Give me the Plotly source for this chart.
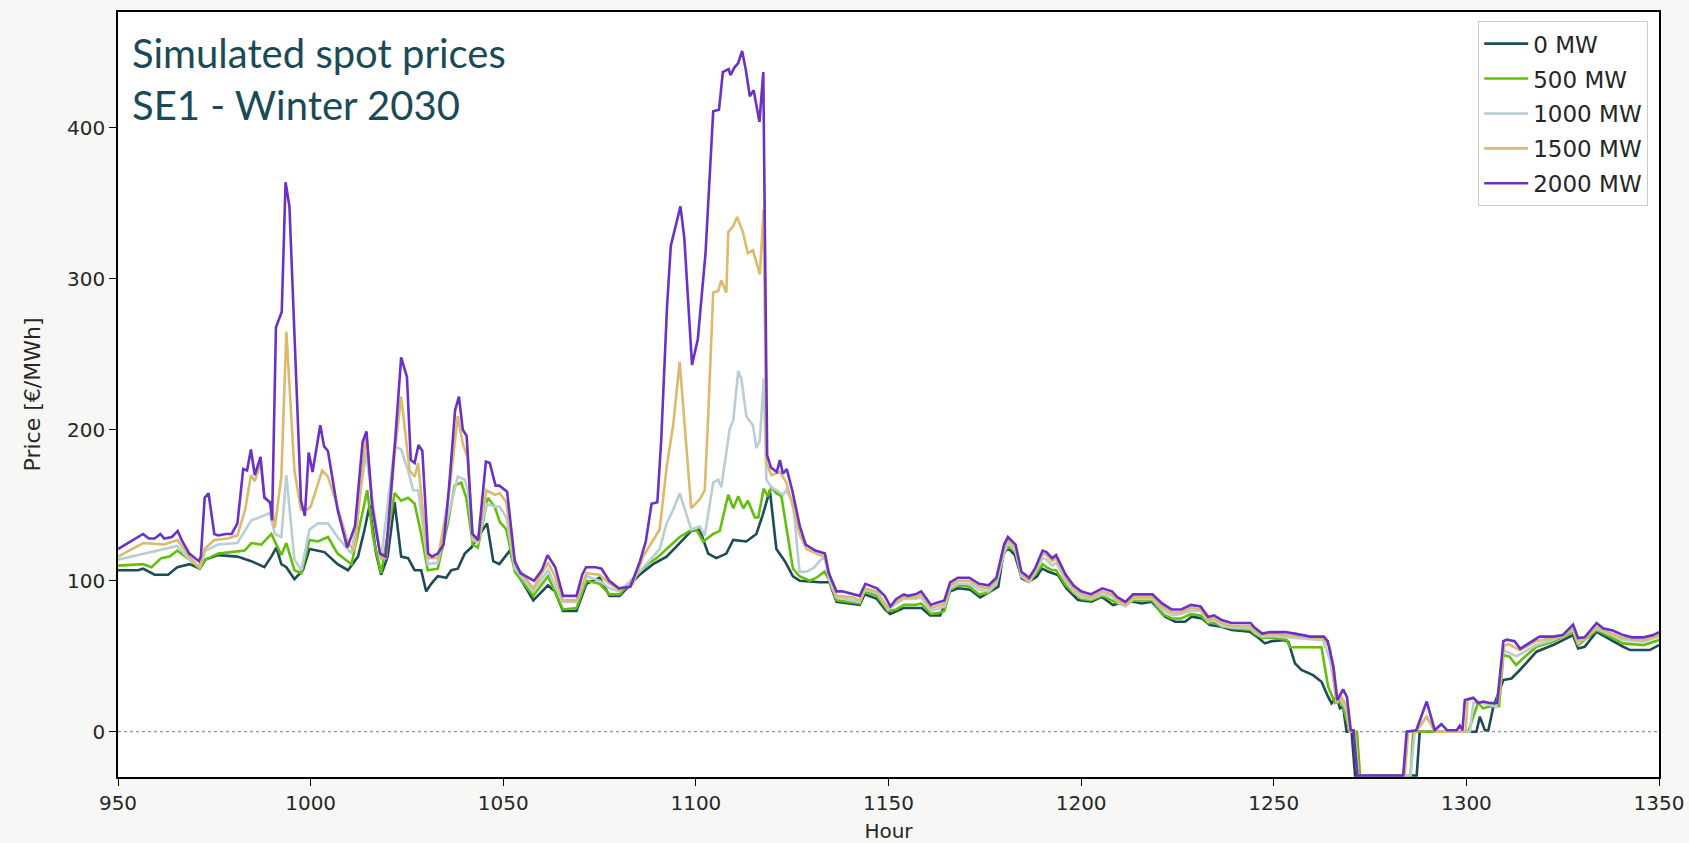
import plotly.graph_objects as go

# Simulated SE1 spot prices, winter 2030, for five levels of added load (MW)
SERIES_NAMES = ["0 MW", "500 MW", "1000 MW", "1500 MW", "2000 MW"]
SERIES_COLORS = ["#1d4b57", "#62bf0c", "#b9cdd4", "#dcb96c", "#6a30c8"]

HOURS_0MW = [950, 955.2, 956.5, 959.5, 963, 965.4, 968.6, 971.2, 972.7, 976, 981, 984.6, 988, 989.8, 991.1,
             992.4, 993.7, 995.8, 998, 999.7, 1003.6, 1007, 1009.7, 1012.3, 1014, 1015.3, 1017, 1018.3, 1020,
             1021.8, 1023.5, 1025.3, 1027, 1028.7, 1030, 1031.3, 1033, 1035.2, 1036.5, 1038.2, 1040, 1041.7,
             1043.4, 1045.8, 1047.4, 1049, 1051.7, 1053.4, 1057.8, 1061.6, 1063.4, 1065.5, 1069, 1071.6, 1075,
             1077.6, 1080.2, 1085.4, 1088.9, 1092.4, 1095.8, 1098.8, 1101, 1103.2, 1105.3, 1107.9, 1109.7,
             1113.1, 1115.7, 1117.4, 1119.2, 1120.9, 1123.1, 1125.2, 1127, 1132.1, 1134.7, 1136.5, 1142.5,
             1143.8, 1147, 1149.1, 1150.4, 1153.9, 1158.6, 1160.8, 1163.4, 1166, 1168.1, 1171.2, 1173.8, 1175.9,
             1178.5, 1179.8, 1181.1, 1182.8, 1184.6, 1186.3, 1188.5, 1189.8, 1191.5, 1194, 1196.2, 1199.2,
             1202.7, 1205.3, 1208.3, 1211.4, 1213.5, 1215.7, 1218.3, 1221.8, 1224.4, 1227, 1228.7, 1231.3,
             1233.4, 1236.5, 1239.1, 1243.8, 1245.6, 1247.7, 1249.5, 1252.5, 1253.8, 1255.5, 1257.2, 1260.2,
             1262.4, 1264.1, 1265, 1266.3, 1267.2, 1268, 1268.9, 1270.2, 1271.1, 1287.1, 1287.9, 1302.6, 1303.5,
             1304.8, 1305.7, 1307, 1309.6, 1311.7, 1313.9, 1318.2, 1322.5, 1327.7, 1329, 1330.7, 1333.8, 1340.7,
             1342.5, 1347.6, 1350]
PRICE_0MW = [107, 107, 108, 104, 104, 109, 111, 108, 114, 117, 116, 113, 109, 116, 122,
             111, 109, 101, 107, 121, 119, 111, 107, 116, 134, 150, 118, 104, 116,
             152, 116, 115, 107, 107, 93, 98, 103, 102, 107, 108, 118, 122,
             129, 138, 113, 111, 120, 106, 87, 97, 93, 80, 80, 98, 102,
             90, 90, 104, 111, 116, 125, 133, 134, 118, 115, 118, 127,
             126, 131, 144, 160, 121, 113, 103, 100, 99, 99, 86, 84,
             91, 88, 81, 78, 82, 82, 77, 77, 93, 95, 94, 89, 92,
             96, 118, 121.5, 117, 101.6, 99.4, 102.7, 108.2, 106, 103.8, 95, 87.2,
             86.1, 89.4, 83.9, 86.1, 86.1, 85, 86.1, 76.2, 72.9, 72.9, 76.2, 75.1,
             70.7, 69.6, 67.4, 66.3, 63, 58.5, 60, 60.7, 59.6, 45.3, 40.9, 37.5,
             33.1, 23.2, 18.8, 23.2, 15.5, 16.6, 0, 0, -29, -29, 0, 0, 10,
             1, 1, 16.6, 34.2, 35.3, 40.9, 53, 57.4, 64, 55.2, 56.3, 66.2, 56.3,
             54.1, 54.1, 57.4]

HOURS_500MW = [950, 956.5, 958.7, 961.2, 963.4, 965.4, 968.6, 971.2, 972.7, 976, 979.4, 982.9, 984.6, 987.2,
               989.8, 991.1, 992.4, 993.7, 995.8, 997.6, 999.7, 1001.9, 1004.5, 1007, 1010.6, 1014.7, 1016.2,
               1018.3, 1021.8, 1023.5, 1025.3, 1027, 1028.7, 1030.4, 1033, 1035.6, 1037.4, 1039.1, 1040.4,
               1042.1, 1043.4, 1046, 1047.8, 1049.1, 1050.8, 1053, 1057.8, 1061.6, 1065.5, 1069, 1071.6, 1075,
               1077.6, 1080.2, 1085.4, 1088, 1089.8, 1092.4, 1095.8, 1098.4, 1100.1, 1101.9, 1104.5, 1106.2,
               1108.4, 1109.7, 1111, 1112.3, 1113.5, 1115.3, 1116.2, 1117.6, 1118.7, 1119.6, 1120.9, 1122.2,
               1123.5, 1125.2, 1126.9, 1129.6, 1131.3, 1133.4, 1134.7, 1136.5, 1142.5, 1143.8, 1147, 1149.9,
               1152, 1154, 1157, 1158.5, 1161, 1163.5, 1164.5, 1166, 1168, 1171, 1173.5, 1176, 1178, 1180, 1181,
               1183, 1184.5, 1186.5, 1188, 1190, 1191, 1192.5, 1193.5, 1196, 1198, 1200, 1202.5, 1205.5, 1208,
               1209.5, 1211.5, 1213.5, 1216, 1218.5, 1221, 1223.5, 1226, 1228.5, 1231, 1233, 1234.5, 1236.5,
               1239, 1244, 1245, 1247, 1249, 1253.3, 1254.2, 1262.4, 1264.1, 1265.9, 1267.6, 1268.9, 1269.8,
               1271.6, 1272.4, 1285.5, 1286.2, 1300.5, 1303, 1304.4, 1305.7, 1308.5, 1309.6, 1311.2, 1312.9,
               1314.7, 1318.2, 1322.5, 1327.7, 1329, 1333.8, 1340.7, 1346, 1350]
PRICE_500MW = [110, 111, 109, 115, 116, 120, 114, 108, 114, 118, 119, 120, 125, 124,
               131, 124, 117, 125, 107, 105, 127, 126, 129, 118, 111, 160, 129,
               105, 158, 153, 155, 151, 131, 107, 108, 138, 163, 165, 155,
               124, 122, 155, 149, 139, 134, 106, 90, 103, 81, 82, 100, 98,
               91, 91, 106, 112, 115, 121, 129, 133, 134, 126, 131, 133,
               157, 148, 156, 148, 153, 142, 142, 161, 156, 162, 158, 156,
               136, 108, 103, 100, 102, 106, 100, 87, 85, 93, 90, 80,
               81, 84, 84, 85, 78, 79, 80, 94, 97, 96, 91, 92, 98, 118, 123,
               119, 103, 100, 104, 111, 109, 107, 107, 97, 92, 88, 87, 90, 87,
               85, 84, 87, 87, 87, 78, 75, 75, 78, 77, 72, 72, 70,
               68.5, 67.5, 65, 62, 62.5, 61, 56, 56, 30, 19, 20, 7.7, 0,
               0, -29, -29, 0, 0, 19, 15.5, 16.5, 17, 50.8, 49.7, 44.2,
               48.6, 56.3, 59.6, 66.2, 57.4, 67.3, 58.5, 57.4, 60.7]

HOURS_1000MW = [950, 956.5, 962, 965.4, 968.6, 971.2, 972.7, 976, 981, 984.6, 986.8, 989.4, 990.7, 992.4,
                993.7, 995.8, 997.6, 999.7, 1001.9, 1004.5, 1007, 1010.6, 1014.4, 1016.2, 1018.3, 1021.8,
                1023.5, 1025.3, 1026.6, 1027.9, 1030.4, 1033, 1035.6, 1038.2, 1040, 1040.8, 1042.1, 1043.4,
                1045.6, 1047.8, 1049.1, 1050.8, 1053, 1057.8, 1061.6, 1065.5, 1069, 1071.6, 1075, 1077.6,
                1080.2, 1085.4, 1088.9, 1090.6, 1092.4, 1094.1, 1095.8, 1097.1, 1098.8, 1101, 1102.3, 1104.5,
                1105.8, 1106.6, 1108.8, 1109.7, 1111, 1111.8, 1113.1, 1114.8, 1115.7, 1116.6, 1117.6, 1118.3,
                1119.6, 1120.9, 1122.6, 1123.5, 1125.2, 1126.9, 1128.7, 1130.8, 1132.1, 1133.4, 1134.7, 1136.5,
                1142.5, 1143.8, 1147, 1149.9, 1152, 1154, 1157, 1158.5, 1161, 1163.5, 1164.5, 1166, 1168, 1171,
                1173.5, 1176, 1178, 1180, 1181, 1183, 1184.5, 1186.5, 1188, 1190, 1191, 1192.5, 1193.5, 1196,
                1198, 1200, 1202.5, 1205.5, 1208, 1209.5, 1211.5, 1213.5, 1216, 1218.5, 1221, 1223.5, 1226,
                1228.5, 1231, 1233, 1234.5, 1236.5, 1239, 1244, 1245, 1247, 1249, 1257.7, 1262.8, 1264.6,
                1266.3, 1267.6, 1268.9, 1269.8, 1271, 1271.9, 1285.5, 1286.6, 1289.7, 1291.8, 1300.9, 1301.8,
                1304.4, 1307.8, 1309.6, 1313, 1318.2, 1322.5, 1327.7, 1329, 1333.8, 1340.7, 1346, 1350]
PRICE_1000MW = [114, 118, 121, 123, 114, 109, 120, 124, 125, 140, 142, 145, 131, 129,
                170, 114, 107, 134, 138, 138, 129, 118, 185, 150, 114, 189,
                187, 173, 160, 160, 111, 112, 142, 169, 167, 160, 127, 125,
                151, 149, 149, 142, 108, 93, 107, 86, 86, 103, 100, 95,
                93, 106, 116, 121, 138, 147, 158, 147, 134, 136, 130, 165,
                167, 162, 201, 206, 239, 234, 209, 203, 188, 193, 234, 167,
                162, 160, 157, 160, 152, 106, 106, 109, 113, 116, 100, 89,
                86, 94, 92, 81, 85, 88, 88, 89, 80, 82, 83, 95, 98, 98,
                94, 93, 98, 119, 125, 120, 103, 99, 105, 115, 114, 110, 112, 100,
                93, 89, 88, 91, 90, 86, 83, 88, 88, 88, 81, 77, 78,
                80, 80, 73, 74, 70, 69, 68.5, 66, 63, 63.4, 62, 60.7, 47.5,
                21, 21, 14, 0, 0, -29, -29, 0, 10, 0, 0, 19,
                19, 16.5, 54, 50, 57.4, 60.7, 67.3, 58.5, 68.4, 60.7, 59.6, 63]

HOURS_1500MW = [950, 956.5, 962, 965.5, 968.5, 971, 972.5, 975, 978.5, 981, 983, 984.5, 985.5, 987, 988,
                990, 990.7, 992.4, 993.7, 995.8, 997.5, 999, 1000, 1002, 1003, 1004.5, 1007, 1009.7, 1011.4,
                1014.4, 1016.2, 1018.3, 1019.6, 1021.8, 1023.5, 1025.7, 1027, 1027.9, 1030.4, 1033, 1035.6,
                1038.2, 1039.5, 1040.7, 1042.1, 1043.4, 1045.6, 1047.8, 1049.1, 1050.8, 1053, 1057.8, 1061.6,
                1063.4, 1065.5, 1069, 1071.6, 1075, 1077.6, 1080.2, 1083.7, 1086.3, 1088.9, 1090.6, 1092.4,
                1094.1, 1095.8, 1097.1, 1098.8, 1101, 1102.3, 1103.2, 1104.5, 1105.8, 1106.6, 1107.9, 1108.4,
                1109.7, 1110.7, 1112.2, 1113.5, 1114.8, 1116.6, 1117.6, 1118.3, 1119.6, 1121.8, 1123.5, 1125.2,
                1126.9, 1128.7, 1132.1, 1133.4, 1135.2, 1136.5, 1140.8, 1142.5, 1143.8, 1147, 1149.9, 1152,
                1154, 1157, 1158.5, 1161, 1163.5, 1164.5, 1166, 1168, 1171, 1173.5, 1176, 1178, 1180, 1181,
                1183, 1184.5, 1186.5, 1188, 1190, 1191, 1192.5, 1193.5, 1196, 1198, 1200, 1202.5, 1205.5, 1208,
                1209.5, 1211.5, 1213.5, 1216, 1218.5, 1221, 1223.5, 1226, 1228.5, 1231, 1233, 1234.5, 1236.5,
                1239, 1244, 1245, 1247, 1249, 1257, 1262.8, 1264.6, 1266.3, 1267.6, 1268.9, 1269.8, 1271,
                1271.9, 1284, 1284.9, 1287, 1289.7, 1291.8, 1299.8, 1300.3, 1302, 1303.5, 1306, 1308.3, 1309.8,
                1311, 1313.9, 1316, 1318.2, 1322.5, 1325, 1327.7, 1329, 1330.7, 1333.8, 1336, 1340.7, 1346, 1350]
PRICE_1500MW = [116, 125, 124, 127, 116, 109, 121, 127, 128, 130, 147, 170, 166, 178, 156,
                149, 135, 169, 265, 173, 147, 147, 149, 166, 173, 169, 149, 125, 120,
                198, 145, 115, 115, 184, 222, 173, 169, 178, 115, 115, 151,
                209, 191, 182, 129, 126, 160, 157, 158, 152, 111, 95, 112,
                103, 87, 87, 105, 104, 98, 94, 98, 116, 127, 134, 175,
                203, 245, 201, 148, 154, 160, 209, 291, 292, 299, 291, 331,
                335, 341, 331, 317, 319, 303, 346, 178, 170, 172, 165, 149,
                131, 121, 117, 116, 100, 90, 89, 87, 95, 93, 82, 86,
                89, 89, 91, 82, 84, 85, 97, 100, 100, 96, 95, 100, 122, 127,
                122, 104, 100, 106, 118, 117, 113, 115, 102, 95, 91, 89, 93, 91,
                87, 84, 89, 89, 89, 83, 79, 79, 82, 81, 74, 75, 72,
                70, 70, 67, 64, 65, 63, 62, 56, 19, 23, 17, 0, 0,
                -29, -29, 0, 0, 10, 0, 0, 21, 22, 19, 19, 19, 57,
                58, 54, 57, 60, 62, 63, 68.5, 60, 61, 69.5, 67, 62, 60.7, 64]

HOURS_2000MW = [950, 956.5, 958, 959.5, 961, 962, 964, 965.5, 966.5, 968.5, 971, 971.5, 972.5, 973.5, 975,
                976, 978, 979.5, 981, 982.5, 983.5, 984.5, 985.5, 987, 988, 989.5, 990, 991, 992.5, 993.5,
                994.5, 996, 997.5, 998.5, 999.5, 1000.5, 1002.5, 1003.5, 1004.5, 1007, 1009.5, 1011.5, 1013.5,
                1014.5, 1016, 1018, 1019.5, 1022, 1023.5, 1025, 1026, 1027, 1028, 1029, 1030.5, 1031.5, 1033,
                1034.5, 1036, 1037.5, 1038.5, 1039.5, 1040.5, 1042, 1043.5, 1045.5, 1046.5, 1048, 1049, 1051,
                1053, 1054.5, 1058, 1060, 1061.5, 1063.5, 1065.5, 1069, 1070.5, 1071.5, 1074, 1075.5, 1077.5,
                1080, 1083, 1085.5, 1087, 1088.5, 1090, 1091, 1092.5, 1093.5, 1096, 1097, 1099, 1100.5, 1102.5,
                1104.5, 1106, 1107, 1108.5, 1109, 1110, 1111, 1112, 1113, 1114, 1115, 1116.5, 1117.5, 1118.5,
                1119.5, 1121, 1121.8, 1122.6, 1123.6, 1125, 1127, 1128.5, 1131, 1133.5, 1134.5, 1136.5, 1138,
                1141, 1142.5, 1144, 1147, 1149, 1150.5, 1152, 1154, 1155, 1157, 1158.5, 1161, 1162, 1163.5,
                1164.5, 1166, 1168, 1171, 1173.5, 1176, 1178, 1180, 1181, 1183, 1184.5, 1186.5, 1188, 1190,
                1191, 1192.5, 1193.5, 1196, 1198, 1200, 1202.5, 1205.5, 1208, 1209.5, 1211.5, 1213.5, 1216,
                1218.5, 1221, 1223.5, 1226, 1228.5, 1231, 1233, 1234.5, 1236.5, 1239, 1244, 1245, 1247, 1249,
                1253, 1255.5, 1257.5, 1259.5, 1263, 1264, 1265.5, 1266.5, 1268, 1269, 1270, 1270.7, 1271.7,
                1283.6, 1284.5, 1287, 1289.7, 1291.8, 1293.5, 1295, 1297.5, 1298.3, 1299, 1299.6, 1301.8, 1303,
                1304.4, 1306, 1308, 1309.6, 1310.5, 1312.5, 1314, 1316, 1318, 1319, 1322.5, 1325, 1327.7, 1329,
                1330.7, 1333.8, 1335.5, 1338, 1340.7, 1343, 1346, 1348.5, 1350]
PRICE_2000MW = [121, 131, 128, 128, 131, 128, 129, 133, 127, 118, 113, 116, 155, 158, 131,
                130, 131, 131, 138, 174, 173, 187, 170, 182, 155, 152, 140, 268, 278, 364,
                348, 250, 153, 143, 185, 172, 203, 189, 186, 147, 122, 136, 192,
                199, 149, 118, 116, 195, 248, 235, 180, 178, 190, 186, 118, 116, 118,
                124, 164, 213, 222, 200, 196, 131, 127, 179, 178, 163, 163, 159,
                113, 105, 100, 107, 117, 109, 90, 90, 104, 109, 109, 108, 100,
                95, 96, 113, 126, 151, 152, 193, 281, 322, 348, 327, 243, 260, 317,
                411, 412, 437, 439, 435, 440, 443, 451, 438, 421, 425, 404, 437, 183,
                175, 172, 180, 171, 174, 160, 136, 124, 120, 118, 105, 93, 93,
                91, 90, 98, 95, 90, 83, 88, 91, 90, 91, 93, 84, 85, 86,
                87, 99, 102, 102, 98, 97, 102, 124, 129, 124, 106, 102, 108, 120,
                119, 115, 117, 104, 97, 93, 91, 95, 93, 89, 86, 91, 91,
                91, 85, 81, 81, 84, 83, 76, 77, 74, 72, 72, 69, 65, 66,
                66, 65, 64, 63, 63, 60, 43, 21, 28, 23, 1, 1, -29,
                -29, 0, 1, 20, 1, 5, 1, 1, 4, 1, 21, 22.5, 19,
                20, 19, 19, 60, 61, 60, 55, 58, 61, 63, 63, 64, 71, 62,
                62.5, 72, 68.5, 67, 64, 62.5, 62.5, 64, 66]

HOURS = [HOURS_0MW, HOURS_500MW, HOURS_1000MW, HOURS_1500MW, HOURS_2000MW]
PRICES = [PRICE_0MW, PRICE_500MW, PRICE_1000MW, PRICE_1500MW, PRICE_2000MW]

X_TICKS = [950, 1000, 1050, 1100, 1150, 1200, 1250, 1300, 1350]
Y_TICKS = [0, 100, 200, 300, 400]
TITLE_LINES = ["Simulated spot prices", "SE1 - Winter 2030"]

FONT = "DejaVu Sans"
TEXT_COLOR = "#262626"

fig = go.Figure()
for name, color, hrs, prc in zip(SERIES_NAMES, SERIES_COLORS, HOURS, PRICES):
    # one legend group per series so the legend rows get some extra spacing
    fig.add_trace(go.Scatter(x=hrs, y=prc, mode="lines", name=name, legendgroup=name,
                             line=dict(color=color, width=2.6)))

# dotted reference line at zero price
fig.add_shape(type="line", xref="x", yref="y", x0=950, x1=1350, y0=0, y1=0,
              line=dict(color="#777777", width=1, dash="dot"), layer="below")

axis_common = dict(showline=True, linecolor="black", linewidth=1.6, mirror=True,
                   ticks="outside", ticklen=7, tickwidth=1.4, tickcolor="black",
                   showgrid=False, zeroline=False, automargin=False,
                   tickfont=dict(family=FONT, size=20, color=TEXT_COLOR))

fig.update_layout(
    width=1689, height=843,
    margin=dict(l=118, r=30, t=12, b=66),
    paper_bgcolor="#f7f7f5", plot_bgcolor="white",
    font=dict(family=FONT, color=TEXT_COLOR),
    xaxis=dict(range=[950, 1350], tickvals=X_TICKS,
               title=dict(text="Hour", font=dict(family=FONT, size=20, color=TEXT_COLOR), standoff=18),
               **axis_common),
    yaxis=dict(range=[-30, 476.8], tickvals=Y_TICKS,
               title=dict(text="Price [€/MWh]", font=dict(family=FONT, size=22, color=TEXT_COLOR), standoff=20),
               **axis_common),
    legend=dict(x=0.993, y=0.988, xanchor="right", yanchor="top",
                bgcolor="white", bordercolor="#cccccc", borderwidth=1,
                font=dict(family=FONT, size=23, color=TEXT_COLOR),
                tracegroupgap=2, itemwidth=44),
    showlegend=True,
)

for i, line in enumerate(TITLE_LINES):
    fig.add_annotation(text=line, xref="paper", yref="paper",
                       x=0.0075, y=0.947 - i * 0.068, xanchor="left", yanchor="middle",
                       showarrow=False,
                       font=dict(family="Lato", size=40, color="#1b4a57"))

fig.write_html("out.html")
